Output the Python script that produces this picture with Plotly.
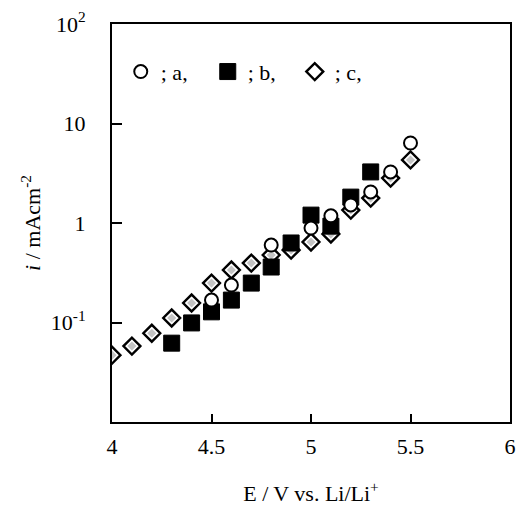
import plotly.graph_objects as go

# Series a (open circles)
E_a = [4.5, 4.6, 4.8, 5.0, 5.1, 5.2, 5.3, 5.4, 5.5]
i_a = [0.168, 0.238, 0.60, 0.89, 1.18, 1.52, 2.05, 3.26, 6.37]

# Series b (filled squares)
E_b = [4.3, 4.4, 4.5, 4.6, 4.7, 4.8, 4.9, 5.0, 5.1, 5.2, 5.3]
i_b = [0.062, 0.099, 0.128, 0.168, 0.249, 0.361, 0.63, 1.20, 0.93, 1.82, 3.26]

# Series c (dotted diamonds)
E_c = [4.0, 4.1, 4.2, 4.3, 4.4, 4.5, 4.6, 4.7, 4.8, 4.9, 5.0, 5.1, 5.2, 5.3, 5.4, 5.5]
i_c = [0.047, 0.058, 0.078, 0.111, 0.157, 0.249, 0.337, 0.396, 0.477, 0.535,
       0.644, 0.775, 1.35, 1.78, 2.83, 4.30]

names = ["; a,", "; b,", "; c,"]
x_ticks = [4, 4.5, 5, 5.5, 6]
x_ticktext = ["4", "4.5", "5", "5.5", "6"]
y_ticks = [0.1, 1, 10, 100]
y_ticktext = ["10<sup>-1</sup>", "1", "10", "10<sup>2</sup>"]

FONT = "Liberation Serif"
FS = 22

fig = go.Figure()
fig.add_trace(go.Scatter(
    x=E_c, y=i_c, mode="markers", name=names[2], legendrank=3,
    marker=dict(symbol="diamond", size=13, color="white",
                line=dict(color="black", width=2.4))))
fig.add_trace(go.Scatter(
    x=E_c, y=i_c, mode="markers", showlegend=False, hoverinfo="skip",
    marker=dict(symbol="diamond", size=7, color="#c4c4c4",
                line=dict(width=0))))
fig.add_trace(go.Scatter(
    x=E_b, y=i_b, mode="markers", name=names[1], legendrank=2,
    marker=dict(symbol="square", size=16, color="black",
                line=dict(color="black", width=1))))
fig.add_trace(go.Scatter(
    x=E_a, y=i_a, mode="markers", name=names[0], legendrank=1,
    marker=dict(symbol="circle", size=13, color="white",
                line=dict(color="black", width=2))))

fig.update_layout(
    width=518, height=508, autosize=False,
    margin=dict(l=112, r=8, t=24, b=86),
    paper_bgcolor="white", plot_bgcolor="white",
    font=dict(family=FONT, size=FS, color="black"),
    showlegend=True,
    legend=dict(orientation="h", x=0.022, y=0.88, xanchor="left", yanchor="middle",
                bgcolor="rgba(0,0,0,0)", font=dict(size=FS, family=FONT),
                entrywidth=42, itemclick=False, traceorder="normal"),
    xaxis=dict(range=[4, 6], tickvals=x_ticks, ticktext=x_ticktext,
               ticks="inside", ticklen=8, tickwidth=1.5, tickcolor="black",
               showline=True, linecolor="black", linewidth=2, mirror=True,
               showgrid=False, zeroline=False, ticklabelstandoff=4,
               automargin=False,
               title=dict(text="E / V vs. Li/Li<sup>+</sup>", standoff=27,
                          font=dict(size=FS, family=FONT))),
    yaxis=dict(type="log", range=[-2, 2], tickvals=y_ticks, ticktext=y_ticktext,
               ticks="inside", ticklen=10, tickwidth=1.5, tickcolor="black",
               showline=True, linecolor="black", linewidth=2, mirror=True,
               showgrid=False, zeroline=False, ticklabelstandoff=20,
               automargin=False,
               title=dict(text="<i>i</i> / mAcm<sup>-2</sup>", standoff=4,
                          font=dict(size=FS, family=FONT))),
)

fig.write_html("out.html", config={"displayModeBar": False},
               post_script="document.body.style.margin='0';document.body.style.overflow='hidden';")
